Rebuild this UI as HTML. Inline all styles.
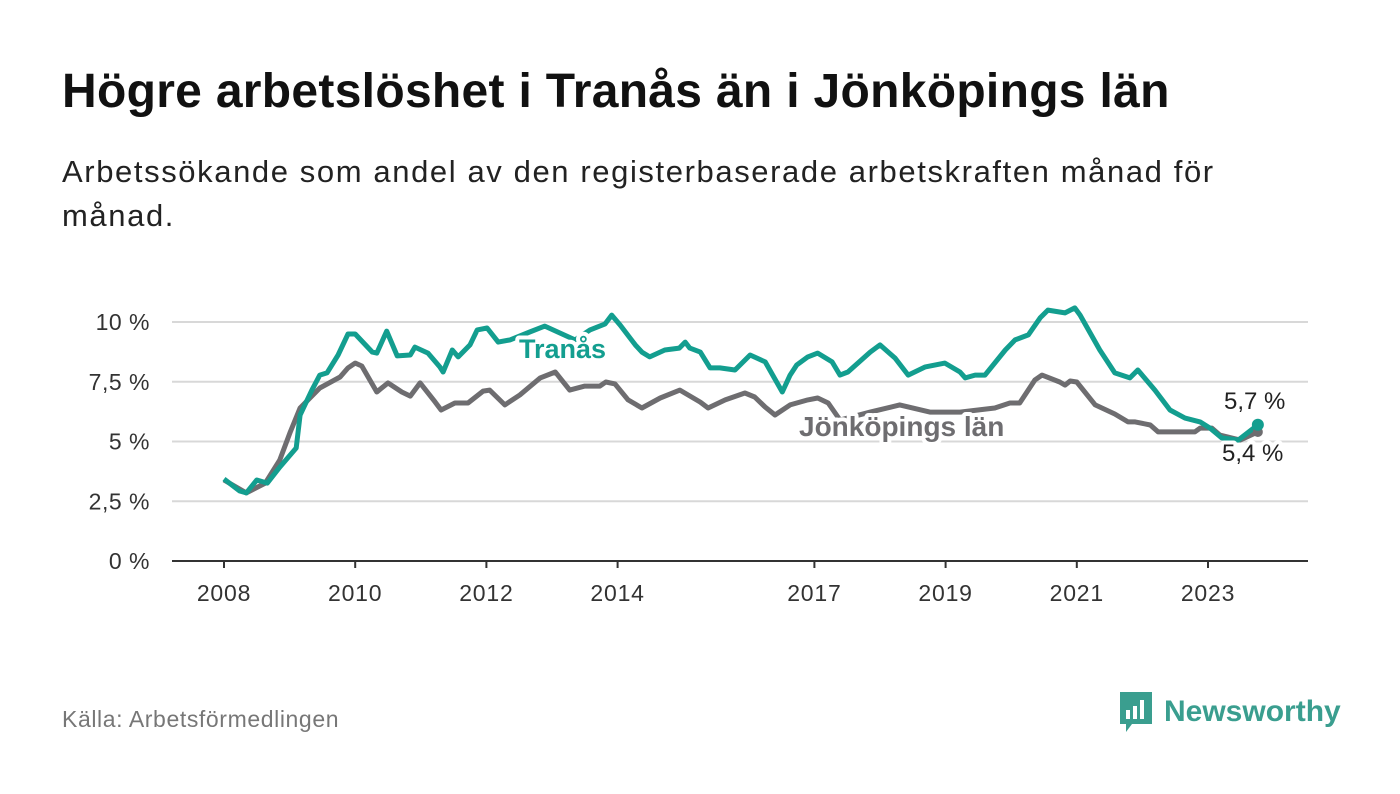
<!DOCTYPE html>
<html><head><meta charset="utf-8"><style>
body{margin:0;background:#fff;font-family:"Liberation Sans","DejaVu Sans",sans-serif;}
#wrap{position:relative;width:1400px;height:794px;overflow:hidden;}
h1{position:absolute;left:62px;top:64px;margin:0;font-size:48px;font-weight:bold;color:#111;letter-spacing:0.3px}
.sub{position:absolute;left:62px;top:150px;width:1300px;font-size:31px;line-height:44px;color:#222;letter-spacing:1.6px}
.src{position:absolute;left:62px;top:706px;font-size:23px;color:#777;letter-spacing:0.6px}
.logo{position:absolute;left:1118px;top:690px;display:flex;align-items:center;gap:10px}
.logo span{font-size:30px;font-weight:bold;color:#3a9e8f}
</style></head><body><div id="wrap">
<h1>Högre arbetslöshet i Tranås än i Jönköpings län</h1>
<div class="sub">Arbetssökande som andel av den registerbaserade arbetskraften månad för<br>månad.</div>
<svg id="chart" width="1400" height="794" style="position:absolute;left:0;top:0"></svg>
<div class="src">Källa: Arbetsförmedlingen</div>
<div class="logo">
<svg width="36" height="44"><path d="M2 2h32v32H14l-6 8v-8H2z" fill="#3a9e8f"/><rect x="8" y="20" width="4" height="9" fill="#fff"/><rect x="15" y="16" width="4" height="13" fill="#fff"/><rect x="22" y="10" width="4" height="19" fill="#fff"/></svg>
<span>Newsworthy</span></div>
</div>
<script>
const yTicks=[0,2.5,5,7.5,10];
const yTickLabels=["0 %","2,5 %","5 %","7,5 %","10 %"];
const xTicks=[2008,2010,2012,2014,2017,2019,2021,2023];
const tranasX=[0,0.24,0.34,0.5,0.66,0.85,1.1,1.16,1.34,1.46,1.57,1.74,1.89,2,2.26,2.33,2.48,2.64,2.84,2.91,3.11,3.29,3.34,3.48,3.57,3.75,3.86,4.01,4.18,4.36,4.66,4.89,5.12,5.35,5.58,5.81,5.91,6.04,6.27,6.37,6.49,6.72,6.94,7.03,7.1,7.26,7.41,7.56,7.79,8.02,8.25,8.51,8.63,8.73,8.9,9.05,9.27,9.39,9.51,9.85,10,10.23,10.43,10.69,10.99,11.22,11.3,11.45,11.6,11.91,12.06,12.26,12.44,12.56,12.82,12.97,13.05,13.35,13.58,13.81,13.93,14.19,14.42,14.65,14.88,15.03,15.21,15.46,15.76];
const tranasV=[3.43,2.93,2.85,3.39,3.26,3.93,4.73,6.11,7.15,7.78,7.87,8.62,9.5,9.5,8.74,8.7,9.62,8.58,8.62,8.95,8.7,8.12,7.91,8.83,8.54,9.04,9.67,9.75,9.16,9.25,9.58,9.83,9.54,9.25,9.67,9.92,10.29,9.87,9.04,8.74,8.54,8.83,8.91,9.16,8.91,8.74,8.08,8.08,7.99,8.62,8.33,7.07,7.78,8.2,8.54,8.7,8.33,7.78,7.91,8.74,9.04,8.49,7.78,8.12,8.28,7.91,7.66,7.78,7.78,8.83,9.25,9.46,10.17,10.5,10.38,10.59,10.29,8.83,7.87,7.66,7.99,7.15,6.32,5.98,5.82,5.56,5.15,5.06,5.7];
const jonX=[0,0.34,0.63,0.85,1.01,1.16,1.46,1.77,1.89,2,2.1,2.33,2.5,2.71,2.84,2.99,3.22,3.31,3.52,3.72,3.95,4.05,4.28,4.51,4.82,5.05,5.27,5.5,5.73,5.82,5.96,6.16,6.37,6.65,6.95,7.26,7.38,7.64,7.94,8.09,8.25,8.4,8.63,8.9,9.05,9.21,9.39,9.85,10.3,10.76,11.22,11.75,11.98,12.13,12.36,12.47,12.74,12.82,12.9,13,13.28,13.58,13.78,13.89,14.12,14.24,14.8,14.88,15.06,15.18,15.49,15.76];
const jonV=[3.39,2.85,3.26,4.23,5.4,6.4,7.24,7.7,8.08,8.28,8.16,7.07,7.45,7.07,6.9,7.45,6.65,6.32,6.61,6.61,7.11,7.15,6.53,6.95,7.66,7.91,7.15,7.32,7.32,7.49,7.41,6.74,6.4,6.82,7.15,6.65,6.4,6.74,7.03,6.86,6.44,6.11,6.53,6.74,6.82,6.61,5.9,6.23,6.53,6.23,6.23,6.4,6.61,6.61,7.57,7.78,7.49,7.36,7.53,7.49,6.53,6.15,5.82,5.82,5.69,5.4,5.4,5.56,5.56,5.27,5.06,5.4];
const endLabels=["5,7 %","5,4 %"];
const svg=document.getElementById('chart');const NS='http://www.w3.org/2000/svg';
const xs=y=>224+(y-2008)*65.6, ys=v=>561-v*23.9;
function mk(t,a,p){const e=document.createElementNS(NS,t);for(const k in a)e.setAttribute(k,a[k]);(p||svg).appendChild(e);return e;}
yTicks.forEach((t,i)=>{
 const l=mk('line',{x1:172,x2:1308,y1:ys(t),y2:ys(t),stroke:i==0?'#333':'#d8d8d8','stroke-width':2});
 
 
 const tx=mk('text',{x:150,y:ys(t)+8,'text-anchor':'end','font-size':23,fill:'#333','letter-spacing':0.5});tx.textContent=yTickLabels[i];
 
 
});
xTicks.forEach(t=>{
 const l=mk('line',{x1:xs(t),x2:xs(t),y1:561,y2:568,stroke:'#333','stroke-width':2});
 
 
 const tx=mk('text',{x:xs(t),y:601,'text-anchor':'middle','font-size':23,fill:'#333','letter-spacing':0.8});tx.textContent=t;
 
 
});
function line(X,V,c,n){const d=X.map((x,i)=>(i?'L':'M')+xs(2008+x).toFixed(1)+','+ys(V[i]).toFixed(1)).join('');
 const p=mk('path',{d:d,fill:'none',stroke:c,'stroke-width':5,'stroke-linejoin':'round'});
 
 }
line(jonX,jonV,'#6e6d70','jonkoping-line');
line(tranasX,tranasV,'#139e8f','tranas-line');
function lab(x,y,t,c,n,sz,w){const e=mk('text',{x:x,y:y,'font-size':sz,'font-weight':w,fill:c,stroke:'#fff','stroke-width':8,'paint-order':'stroke','stroke-linejoin':'round'});e.textContent=t;
 
 }
lab(519,358,'Tranås','#139e8f','tranas-label',27,'bold');
lab(799,436,'Jönköpings län','#6e6d70','jonkoping-label',28,'bold');
const ex=xs(2008+tranasX[tranasX.length-1]);
const d1=mk('circle',{cx:ex,cy:ys(jonV[jonV.length-1]),r:5,fill:'#6e6d70'});


const d2=mk('circle',{cx:ex,cy:ys(tranasV[tranasV.length-1]),r:6,fill:'#139e8f'});


lab(1224,409,endLabels[0],'#222','tranas-end-value',24,'normal');
lab(1222,461,endLabels[1],'#222','jonkoping-end-value',24,'normal');
</script></body></html>
